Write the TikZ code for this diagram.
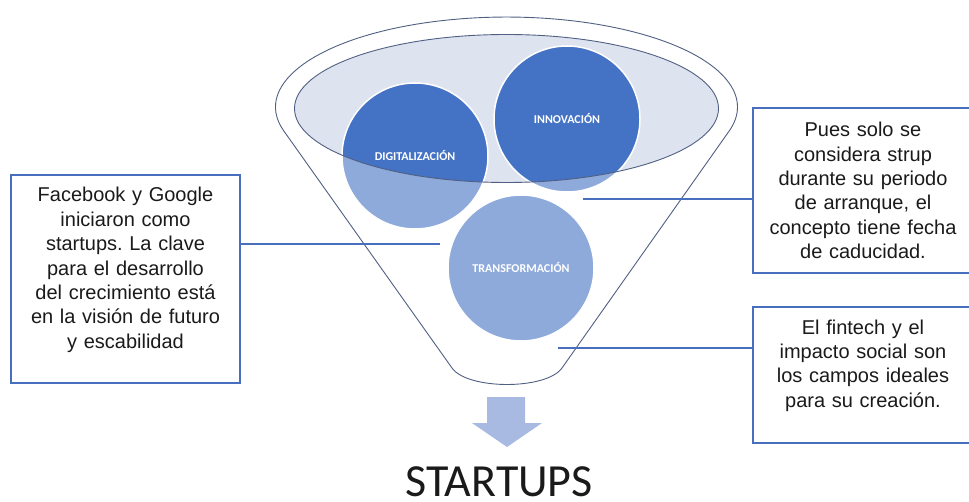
\documentclass[tikz,border=0pt]{standalone}
\usepackage{fontspec}
\newfontfamily\arialfont{Liberation Sans}
\newfontfamily\calibrifont{Carlito}
\definecolor{bubbleblue}{RGB}{68,114,196}
\definecolor{boxblue}{RGB}{72,110,190}
\definecolor{rimfill}{RGB}{222,227,240}
\definecolor{rimline}{RGB}{80,96,130}
\definecolor{arrowfill}{RGB}{168,186,226}
\definecolor{textgray}{RGB}{26,26,26}
\frenchspacing

\begin{document}
\begin{tikzpicture}
    [x=1pt, y=-1pt,
     bubble/.style={circle, fill=bubbleblue, draw=white, line width=1.5pt, minimum size=146pt, inner sep=0pt,
       font=\calibrifont\bfseries\fontsize{12}{14}\selectfont, text=white},
     infobox/.style={draw=boxblue, line width=1.6pt, align=center, inner sep=3pt, text=textgray,
       font=\arialfont\fontsize{20}{24.4}\selectfont},
     link/.style={draw=boxblue, line width=1.2pt}]
    \useasboundingbox (0,0) rectangle (969,502);
    % rim of the funnel
    \fill[white] (452,368) -- (283.7,130.8) arc[start angle=164.7, end angle=375.3, x radius=231, y radius=90]
      -- (562,368) .. controls (546.4,390) and (467.6,390) .. (452,368) -- cycle;
    \fill[rimfill] (506.5,108.5) ellipse[x radius=212, y radius=74];
    % the three bubbles
    \node[bubble] (digi) at (415,156) {DIGITALIZACIÓN};
    \node[bubble] (inno) at (567,119) {INNOVACIÓN};
    \node[bubble] (trans) at (521,268) {TRANSFORMACIÓN};
    % body of the funnel over the bubbles
    \path[draw=rimline, line width=0.9pt, fill=white, fill opacity=0.4, even odd rule]
      (452,368) -- (283.7,130.8) arc[start angle=164.7, end angle=375.3, x radius=231, y radius=90]
      -- (562,368) .. controls (546.4,390) and (467.6,390) .. (452,368) -- cycle
      (506.5,108.5) ellipse[x radius=212, y radius=74];
    % down arrow and result
    \fill[arrowfill] (487,397) -- (525,397) -- (525,423) -- (542,423) -- (507,447) -- (472,423) -- (487,423) -- cycle;
    \node[anchor=base, inner sep=0pt, text=textgray, font=\calibrifont\fontsize{46}{50}\selectfont] (result) at (499,496) {STARTUPS};
    % text boxes
    \node[infobox, minimum width=229pt, minimum height=208pt, text width=220pt] (leftbox) at (125.5,279)
      {Facebook y Google\\ iniciaron como\\ startups. La clave\\ para el desarrollo\\ del crecimiento está\\ en la visión de futuro\\ y escabilidad\par\vspace{18pt}};
    \node[infobox, minimum width=220pt, minimum height=165pt, text width=212pt] (rightbox) at (863,190.5)
      {Pues solo se\\ considera strup\\ durante su periodo\\ de arranque, el\\ concepto tiene fecha\\ de caducidad.};
    \node[infobox, minimum width=220pt, minimum height=136pt, text width=212pt] (lowbox) at (863,375)
      {El fintech y el\\ impacto social son\\ los campos ideales\\ para su creación.\par\vspace{19pt}};
    % connectors
    \coordinate (leftend) at (440,244);
    \coordinate (rightend) at (583,199);
    \coordinate (lowend) at (558,348);
    \draw[link] (leftend) -- (leftend -| leftbox.east);
    \draw[link] (rightend) -- (rightend -| rightbox.west);
    \draw[link] (lowend) -- (lowend -| lowbox.west);
\end{tikzpicture}
\end{document}
